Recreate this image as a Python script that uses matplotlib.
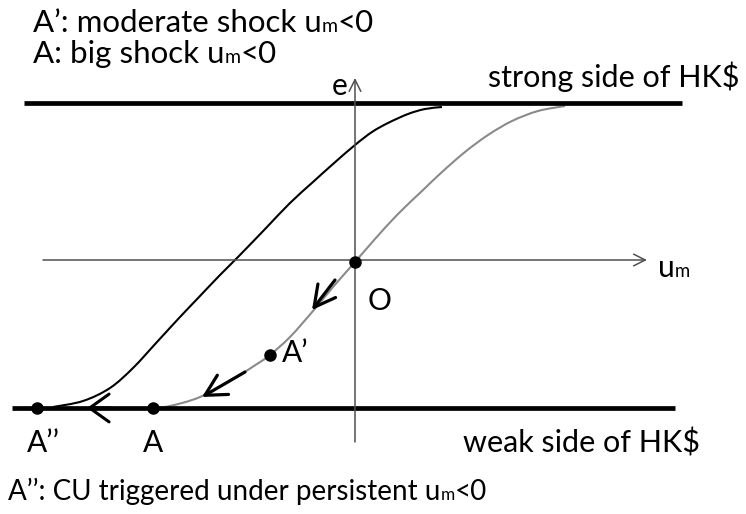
import matplotlib.pyplot as plt
from matplotlib.path import Path
from matplotlib.patches import PathPatch

plt.rcParams['font.family'] = ['Lato', 'DejaVu Sans']

# curves (u = horizontal, e = vertical, origin at O)
black_u = [-302, -272, -245, -222, -198, -175, -155, -135, -117, -88, -65, -42, -22, 0, 17, 33, 53, 70, 87]
black_e = [-145, -139, -126, -106, -80, -55, -34, -13, 5, 35, 59, 80, 98, 117, 130, 139, 148, 153, 155]
gray_u = [-202, -185, -155, -122, -98, -85, -65, -42, -22, 0, 20, 43, 67, 87, 110, 133, 157, 183, 210]
gray_e = [-146, -144, -135, -117, -102, -93, -75, -49, -25, 0, 23, 48, 71, 90, 110, 127, 141, 151, 156]

strong_e = 159
weak_e = -146
dots_u = [0, -85, -202, -318]
dots_e = [0, -93, -146, -146]

fig = plt.figure(figsize=(7.46, 5.14), dpi=100)
ax = fig.add_axes([0, 0, 1, 1])
ax.set_xlim(-355, 391)
ax.set_ylim(-252, 262)
ax.axis('off')


def smooth_path(us, es):
    # catmull-rom through the read points, drawn as cubic bezier pieces
    pts = list(zip(us, es))
    verts = [pts[0]]
    codes = [Path.MOVETO]
    for i in range(len(pts) - 1):
        p0 = pts[i - 1] if i > 0 else pts[i]
        p1 = pts[i]
        p2 = pts[i + 1]
        p3 = pts[i + 2] if i + 2 < len(pts) else pts[i + 1]
        c1 = (p1[0] + (p2[0] - p0[0]) / 6, p1[1] + (p2[1] - p0[1]) / 6)
        c2 = (p2[0] - (p3[0] - p1[0]) / 6, p2[1] - (p3[1] - p1[1]) / 6)
        verts += [c1, c2, p2]
        codes += [Path.CURVE4] * 3
    return Path(verts, codes)


# axes of the diagram
axis_kw = dict(arrowstyle='->, head_length=0.6, head_width=0.3', color='#505050', lw=1.1,
               mutation_scale=14, shrinkA=0, shrinkB=0)
ax.annotate('', xy=(292, 2), xytext=(-312, 2), arrowprops=axis_kw)
ax.annotate('', xy=(0, 184), xytext=(0, -180), arrowprops=axis_kw)

# strong / weak side lines
ax.plot([-331, 327], [strong_e, strong_e], color='black', lw=3.4, solid_capstyle='butt')
ax.plot([-343, 320], [weak_e, weak_e], color='black', lw=3.4, solid_capstyle='butt')

ax.add_patch(PathPatch(smooth_path(black_u, black_e), fill=False, edgecolor='black', lw=1.5))
ax.add_patch(PathPatch(smooth_path(gray_u, gray_e), fill=False, edgecolor='#8a8a8a', lw=1.5))

ax.plot(dots_u, dots_e, 'o', color='black', ms=8, zorder=5)

# movement arrows
arrow_kw = dict(arrowstyle='->, head_length=0.75, head_width=0.4', color='black', lw=2.3,
                mutation_scale=20, shrinkA=0, shrinkB=0)
ax.annotate('', xy=(-43, -48), xytext=(-20, -18), arrowprops=arrow_kw)
ax.annotate('', xy=(-153, -135), xytext=(-110, -110), arrowprops=arrow_kw)
ax.annotate('', xy=(-268, weak_e), xytext=(-245, weak_e),
            arrowprops=dict(arrowstyle='->, head_length=0.7, head_width=0.5', color='black', lw=2.2,
                            mutation_scale=20, shrinkA=0, shrinkB=0))

fig.canvas.draw()
renderer = fig.canvas.get_renderer()


def put(u, e, pieces, fs=21.5):
    # pieces: (text, relative size); drawn one after another on one baseline
    x = u
    for s, rel in pieces:
        t = ax.text(x, e, s, fontsize=fs * rel, va='baseline', ha='left', color='black')
        bb = t.get_window_extent(renderer)
        x = ax.transData.inverted().transform((bb.x1, bb.y0))[0]


put(-322, 230, [('A’: moderate shock u', 1), ('m', 0.62), ('<0', 1)], fs=22.5)
put(-322, 199, [('A: big shock u', 1), ('m', 0.62), ('<0', 1)], fs=22.5)
put(-347, -238, [('A’’: CU triggered under persistent u', 1), ('m', 0.62), ('<0', 1)], fs=20)
put(303, -15, [('u', 1), ('m', 0.62)])
put(-23, 167, [('e', 1)])
put(133, 175, [('strong side of HK$', 1)], fs=22)
put(108, -190, [('weak side of HK$', 1)], fs=22)
put(13, -48, [('O', 1)])
put(-73, -100, [('A’', 1)])
put(-328, -190, [('A’’', 1)])
put(-212, -190, [('A', 1)])

fig.savefig('out.png', dpi=100)
